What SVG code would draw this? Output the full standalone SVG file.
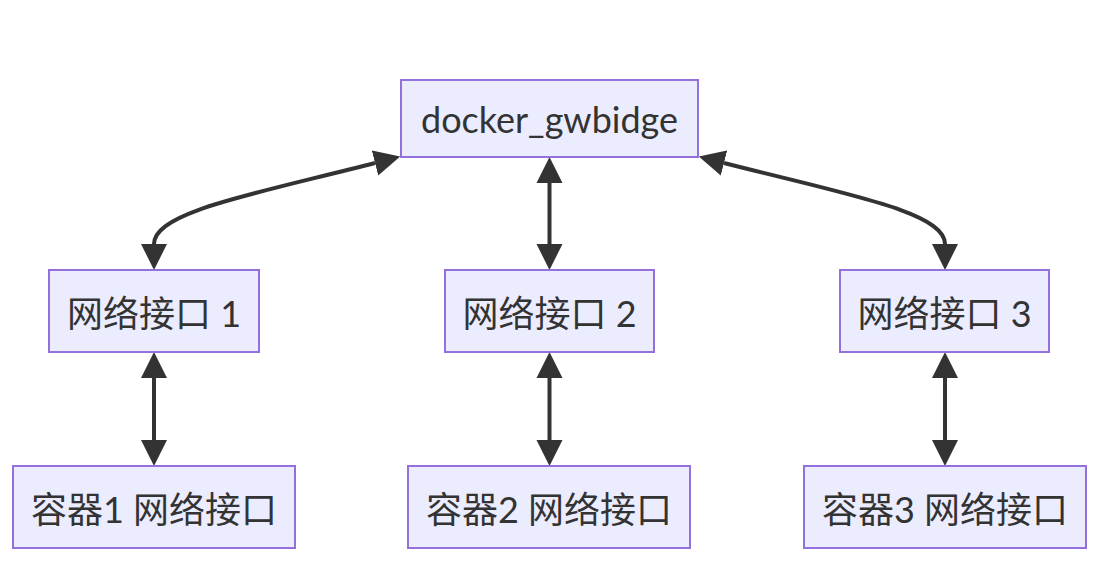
<svg xmlns="http://www.w3.org/2000/svg" width="1101" height="582" viewBox="0 0 1101 582">
<style>
.node rect{fill:#ECECFF;stroke:#9370DB;stroke-width:2}
.node text{fill:#333;font-family:"Lato","Noto Sans CJK SC",sans-serif;font-size:36px;text-anchor:middle;dominant-baseline:central}
.edge{fill:none;stroke:#333;stroke-width:4}
</style>
<defs>
<marker id="arr" viewBox="0 0 10 10" refX="0" refY="5" markerUnits="userSpaceOnUse" markerWidth="26" markerHeight="27" orient="auto-start-reverse">
<path d="M0,0 L10,5 L0,10 z" fill="#333"/>
</marker>
</defs>
<g id="connectors">
<path class="edge" d="M375,163 C250,195 154,212 154,244" marker-start="url(#arr)" marker-end="url(#arr)"/>
<path class="edge" d="M549.5,183 L549.5,244" marker-start="url(#arr)" marker-end="url(#arr)"/>
<path class="edge" d="M724,163 C849,195 945,212 945,244" marker-start="url(#arr)" marker-end="url(#arr)"/>
<path class="edge" d="M154,378 L154,440" marker-start="url(#arr)" marker-end="url(#arr)"/>
<path class="edge" d="M549.5,378 L549.5,440" marker-start="url(#arr)" marker-end="url(#arr)"/>
<path class="edge" d="M945,378 L945,440" marker-start="url(#arr)" marker-end="url(#arr)"/>
</g>
<g id="gw" class="node"><rect x="401" y="80" width="297" height="77"/><text x="549.5" y="118.5">docker_gwbidge</text></g>
<g id="if1" class="node"><rect x="49" y="270" width="210" height="82"/><text x="154" y="313">网络接口 1</text></g>
<g id="if2" class="node"><rect x="445" y="270" width="209" height="82"/><text x="549.5" y="313">网络接口 2</text></g>
<g id="if3" class="node"><rect x="840" y="270" width="209" height="82"/><text x="944.5" y="313">网络接口 3</text></g>
<g id="c1" class="node"><rect x="13" y="466" width="282" height="82"/><text x="154" y="509">容器1 网络接口</text></g>
<g id="c2" class="node"><rect x="408" y="466" width="282" height="82"/><text x="549" y="509">容器2 网络接口</text></g>
<g id="c3" class="node"><rect x="804" y="466" width="282" height="82"/><text x="945" y="509">容器3 网络接口</text></g>
</svg>
